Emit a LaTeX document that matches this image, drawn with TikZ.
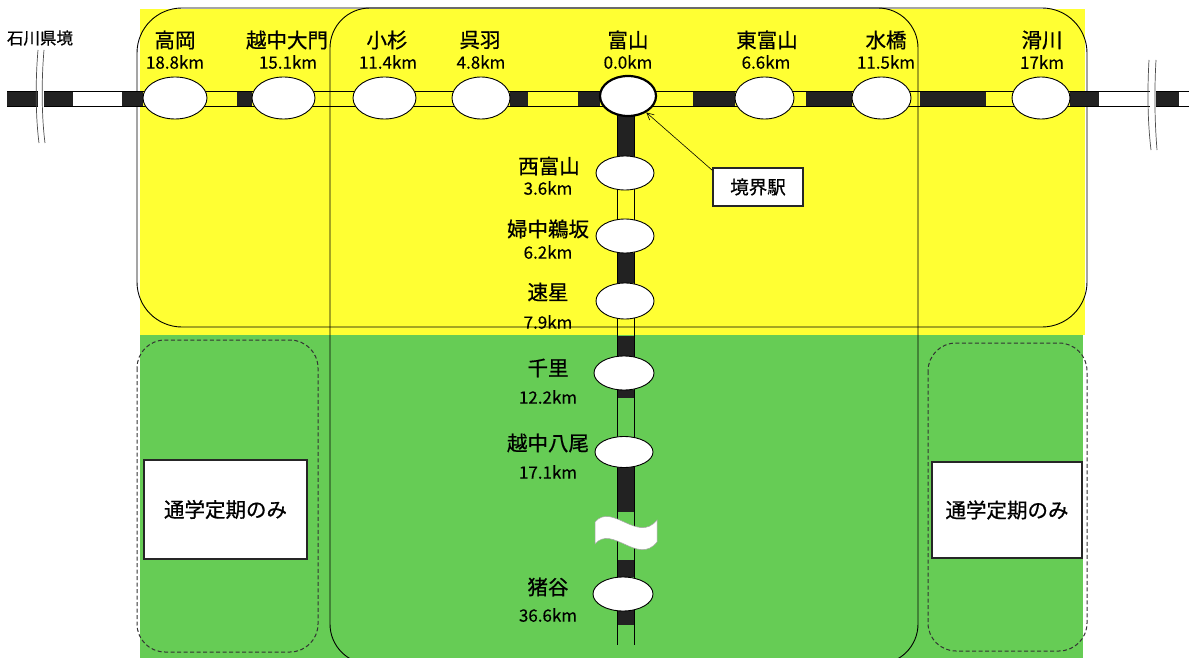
\documentclass[tikz,border=0pt]{standalone}
\usepackage{fontspec}
\setmainfont{Noto Sans CJK JP}
\newfontfamily\jpheavy[FakeBold=0.7]{Noto Sans CJK JP}
\newfontfamily\numheavy[FakeBold=0.3]{Noto Sans CJK JP}
\usetikzlibrary{shapes.geometric,arrows.meta}
\definecolor{bgyellow}{RGB}{255,255,51}
\definecolor{bggreen}{RGB}{102,204,85}
\definecolor{trackblack}{RGB}{34,34,34}
\tikzset{
  sta/.style={ellipse, draw=black, line width=0.9pt, fill=white, inner sep=0pt, minimum width=60pt, minimum height=42pt},
  vsta/.style={ellipse, draw=black, line width=0.9pt, fill=white, inner sep=0pt, minimum width=58pt, minimum height=34pt},
  stname/.style={font=\jpheavy\fontsize{20.5}{24}\selectfont, inner sep=0pt},
  stdist/.style={font=\numheavy\fontsize{17}{20}\selectfont, inner sep=0pt},
  blk/.style={fill=trackblack},
  trackline/.style={line width=0.8pt, draw=black},
  region/.style={draw=black, line width=0.9pt},
  dashregion/.style={draw=black!80, line width=1pt, dash pattern=on 4pt off 2.5pt, rounded corners=28pt},
  notebox/.style={draw=black!85, line width=1.3pt, fill=white, inner sep=0pt, font=\jpheavy\fontsize{20.5}{24}\selectfont},
  breakline/.style={draw=black!70, line width=0.7pt}
}
\begin{document}
\begin{tikzpicture}[x=1pt,y=-1pt]
\useasboundingbox (0,0) rectangle (1189,658);
% backgrounds
\fill[bgyellow] (140,9) rectangle (1085,335);
\fill[bggreen] (140,335) rectangle (1083,658);
% region outlines
\draw[region, rounded corners=45pt] (137,8) rectangle (1087,327);
\draw[region, rounded corners=40pt] (330,8) rectangle (918,664);
\draw[dashregion] (137,340) rectangle (318,652);
\draw[dashregion] (928,343) rectangle (1087,651);
% horizontal track fills
\foreach \a/\b in {7/73,122/143,237/252,510/528,578/600,693/735,806/852,920/986,1070/1099,1154/1179}
  \fill[blk] (\a,91) rectangle (\b,106);
\draw[trackline] (7,91) -- (1189,91);
\draw[trackline] (7,106) -- (1189,106);
% vertical track fills
\foreach \a/\b in {108/157,253/283,336/357,390/398,467/512,560/577,610/625}
  \fill[blk] (617,\a) rectangle (634,\b);
\draw[trackline] (617,108) -- (617,645);
\draw[trackline] (634,108) -- (634,645);
% breaks
\fill[white] (37.5,88) rectangle (43.5,109);
\draw[breakline] (38,50) .. controls (35,85) and (36,120) .. (39,143);
\draw[breakline] (44,50) .. controls (41,85) and (42,120) .. (45,143);
\fill[white] (1149.5,88) rectangle (1155.5,109);
\draw[breakline] (1149,60) .. controls (1147,95) and (1148,125) .. (1151,150);
\draw[breakline] (1156,60) .. controls (1154,95) and (1155,125) .. (1157,150);
% wave break on vertical line
\filldraw[fill=white, draw=black!35, line width=0.5pt]
  (595,522) .. controls (612,502) and (638,544) .. (657,520)
  -- (657,542) .. controls (638,566) and (612,524) .. (595,544) -- cycle;
% horizontal stations
\node[sta, minimum width=64pt] (takaoka) at (175,98) {};
\node[sta, minimum width=63pt] (daimon) at (283.5,98) {};
\node[sta, minimum width=63pt] (kosugi) at (384.5,98) {};
\node[sta, minimum width=58pt] (kureha) at (481,98) {};
\node[sta, minimum width=56pt, minimum height=40pt, line width=2.2pt] (toyama) at (628,96) {};
\node[sta, minimum width=59pt] (higashi) at (764.5,98) {};
\node[sta, minimum width=59pt] (mizuhashi) at (881.5,98) {};
\node[sta, minimum width=58pt] (namerikawa) at (1041,98) {};
% vertical stations
\node[vsta] (nishi) at (625,173) {};
\node[vsta] (fuchu) at (625,236) {};
\node[vsta, minimum height=36pt] (hayahoshi) at (625,301) {};
\node[vsta, minimum width=60pt] (chisato) at (624,373) {};
\node[vsta, minimum height=31pt] (yatsuo) at (624,452) {};
\node[vsta, minimum width=60pt] (inotani) at (623,594) {};
% labels
\node[font=\jpheavy\fontsize{16.5}{19}\selectfont, inner sep=0pt] (ishikawa) at (40,38) {石川県境};
\node[stname] (lt1) at (175,40) {高岡};
\node[stdist] (ld1) at (175,62) {18.8km};
\node[stname] (lt2) at (287,40) {越中大門};
\node[stdist] (ld2) at (288,62) {15.1km};
\node[stname] (lt3) at (387,40) {小杉};
\node[stdist] (ld3) at (388,62) {11.4km};
\node[stname] (lt4) at (480,40) {呉羽};
\node[stdist] (ld4) at (481,62) {4.8km};
\node[stname] (lt5) at (628,40) {富山};
\node[stdist] (ld5) at (628,62) {0.0km};
\node[stname] (lt6) at (767,40) {東富山};
\node[stdist] (ld6) at (766,62) {6.6km};
\node[stname] (lt7) at (886,40) {水橋};
\node[stdist] (ld7) at (886,62) {11.5km};
\node[stname] (lt8) at (1042,40) {滑川};
\node[stdist] (ld8) at (1042,62) {17km};
\node[stname] (vt1) at (549,166) {西富山};
\node[stdist] (vd1) at (548,188) {3.6km};
\node[stname] (vt2) at (548,229) {婦中鵜坂};
\node[stdist] (vd2) at (548,252) {6.2km};
\node[stname] (vt3) at (548,292) {速星};
\node[stdist] (vd3) at (548,322) {7.9km};
\node[stname] (vt4) at (548,368) {千里};
\node[stdist] (vd4) at (548,397) {12.2km};
\node[stname] (vt5) at (548,443) {越中八尾};
\node[stdist] (vd5) at (548,472) {17.1km};
\node[stname] (vt6) at (548,587) {猪谷};
\node[stdist] (vd6) at (548,615) {36.6km};
% boxes
\node[notebox, minimum width=163pt, minimum height=99pt] (teikiL) at (225.5,509.5) {通学定期のみ};
\node[notebox, minimum width=150pt, minimum height=96pt] (teikiR) at (1007,510) {通学定期のみ};
\node[notebox, line width=1.2pt, minimum width=90pt, minimum height=38pt, font=\jpheavy\fontsize{18.5}{22}\selectfont] (kyokai) at (758,187) {境界駅};
\draw[line width=0.6pt, -{Straight Barb[length=7pt,width=7pt]}] ([yshift=-3pt]kyokai.north west) -- (toyama.-42);
\end{tikzpicture}
\end{document}
